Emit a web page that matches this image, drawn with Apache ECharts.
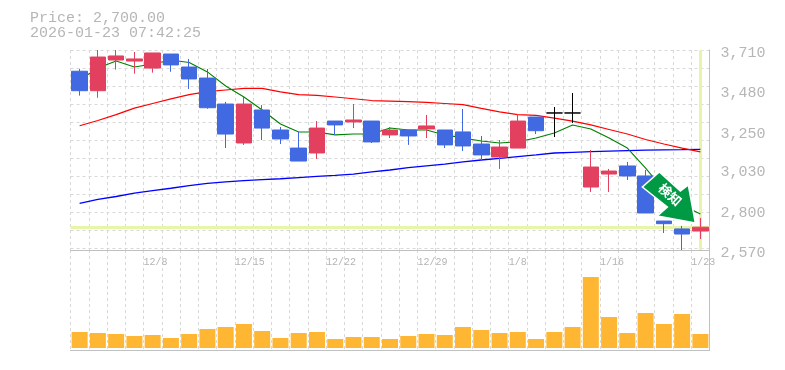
<!DOCTYPE html>
<html>
<head>
<meta charset="utf-8">
<style>html,body{margin:0;padding:0;background:#fff}#c{width:785px;height:370px}</style>
<script src="https://cdn.jsdelivr.net/npm/echarts@6/dist/echarts.min.js"></script>
</head>
<body>
<div id="c"></div>
<script>
const priceLine = 'Price: 2,700.00';
const timeLine = '2026-01-23 07:42:25';
const categories = ['12/2','12/3','12/4','12/5','12/8','12/9','12/10','12/11','12/12','12/15','12/16','12/17','12/18','12/19','12/22','12/23','12/24','12/25','12/26','12/29','12/30','1/5','1/6','1/7','1/8','1/9','1/13','1/14','1/15','1/16','1/19','1/20','1/21','1/22','1/23'];
const xTickLabels = ['12/8','12/15','12/22','12/29','1/8','1/16','1/23'];
const yTickValues = [2570,2800,3030,3250,3480,3710];
const open  = [3589,3478,3653,3647,3607,3687,3613,3550,3402,3180,3368,3254,3151,3123,3305,3300,3305,3226,3254,3260,3254,3243,3174,3100,3151,3328,3351,3351,2929,3003,3049,2992,2735,2690,2678];
const close = [3478,3670,3676,3659,3693,3625,3545,3381,3231,3402,3265,3203,3077,3265,3283,3311,3186,3254,3220,3277,3169,3163,3112,3157,3305,3250,3351,3351,3043,3020,2992,2781,2720,2661,2700];
const low   = [3450,3438,3598,3575,3581,3586,3488,3375,3151,3169,3197,3174,3077,3089,3226,3265,3180,3208,3169,3208,3151,3134,3077,3032,3151,3231,3214,3294,2901,2901,2969,2781,2667,2570,2633];
const high  = [3602,3710,3710,3699,3693,3687,3659,3602,3414,3442,3396,3271,3243,3305,3305,3402,3305,3271,3254,3340,3254,3374,3220,3197,3345,3328,3385,3465,3140,3032,3072,3026,2735,2707,2752];
const maShort = [3539,3607,3647,3613,3630,3653,3639,3585,3505,3442,3368,3288,3243,3243,3226,3231,3231,3265,3254,3254,3226,3208,3191,3180,3187,3208,3237,3283,3260,3208,3151,3037,2912,2827,2775];
const maMid = [3278,3308,3342,3379,3405,3431,3456,3473,3482,3491,3491,3471,3456,3451,3442,3432,3422,3419,3416,3411,3405,3399,3377,3357,3342,3337,3322,3305,3283,3257,3231,3200,3174,3151,3129];
const maLong = [2836,2859,2875,2894,2908,2922,2937,2950,2958,2965,2971,2976,2983,2990,2995,3003,3015,3026,3040,3050,3060,3072,3083,3092,3102,3112,3123,3127,3131,3134,3137,3139,3141,3142,3144];
const volume = [16,15,14,12,13,10,14,19,21,24,17,10,15,16,9,11,11,9,12,14,13,21,18,15,16,9,16,21,71,31,15,35,24,34,14];
const lastPrice = 2700;
const arrowText = '検知';

const GREY = '#b6b6b6', AXIS = '#c0c0c0', GRID = '#d8d8d8', RED = '#e2405e', BLUE = '#4169e1', HILITE = '#e6f5a8';
const boundaries = categories.concat(['']);
const candles = categories.map((c, i) => {
  const item = { value: [open[i], close[i], low[i], high[i]] };
  if (open[i] === close[i]) item.itemStyle = { color: '#000', color0: '#000', borderColor: '#000', borderColor0: '#000' };
  return item;
});
const dashed = { show: true, interval: 0, lineStyle: { color: GRID, width: 1, type: [3, 3] } };
const solidAxis = { show: true, onZero: false, lineStyle: { color: AXIS, width: 1 } };
const maLine = (name, data, color, width, extra) => Object.assign({
  name, type: 'line', data, xAxisIndex: 0, yAxisIndex: 0, symbol: 'none', z: 1,
  lineStyle: { color, width }, silent: true
}, extra || {});

const chart = echarts.init(document.getElementById('c'), null, { renderer: 'canvas' });
chart.setOption({
  animation: false,
  backgroundColor: '#fff',
  grid: [
    { left: 70.5, top: 50, width: 639, height: 200 },
    { left: 70.5, top: 250, width: 639, height: 100 }
  ],
  graphic: [
    { type: 'text', left: 30, top: 11, style: { text: priceLine, fill: GREY, font: '15px "Liberation Mono"' } },
    { type: 'text', left: 30, top: 26, style: { text: timeLine, fill: GREY, font: '15px "Liberation Mono"' } }
  ],
  xAxis: [
    { type: 'category', gridIndex: 0, data: categories, axisLine: { show: false }, axisTick: { show: false }, axisLabel: { show: false }, splitLine: { show: false } },
    { type: 'category', gridIndex: 0, data: boundaries, boundaryGap: false, position: 'bottom',
      axisLine: solidAxis, axisTick: { show: false }, splitLine: dashed,
      axisLabel: { show: true, align: 'left', margin: 7, color: '#b4b4b4', fontFamily: 'Liberation Mono', fontSize: 10,
        interval: (i, v) => xTickLabels.includes(v) } },
    { type: 'category', gridIndex: 1, data: categories, axisLine: { show: false }, axisTick: { show: false }, axisLabel: { show: false }, splitLine: { show: false } },
    { type: 'category', gridIndex: 1, data: boundaries, boundaryGap: false, position: 'bottom',
      axisLine: solidAxis, axisTick: { show: false }, axisLabel: { show: false }, splitLine: dashed }
  ],
  yAxis: [
    { type: 'value', gridIndex: 0, position: 'right', min: 2570, max: 3710, scale: true,
      axisLine: { show: true, lineStyle: { color: AXIS, width: 1 } }, axisTick: { show: false }, splitLine: { show: false },
      axisLabel: { show: true, customValues: yTickValues, margin: 11, color: GREY, fontFamily: 'Liberation Mono', fontSize: 15,
        verticalAlign: 'top', lineHeight: 6,
        formatter: v => v.toLocaleString('en-US') } },
    { type: 'value', gridIndex: 0, position: 'left', min: 0, max: 200, interval: 18, inverse: true,
      axisLine: { show: false }, axisTick: { show: false }, axisLabel: { show: false }, splitLine: dashed },
    { type: 'value', gridIndex: 1, position: 'right', min: -2, max: 98,
      axisLine: { show: true, lineStyle: { color: AXIS, width: 1 } }, axisTick: { show: false }, axisLabel: { show: false }, splitLine: { show: false } }
  ],
  series: [
    maLine('hilite', categories.map(() => null), HILITE, 1, {
      markLine: { silent: true, symbol: 'none', z: 1, label: { show: false },
        lineStyle: { color: HILITE, width: 3, type: 'solid' },
        data: [{ yAxis: lastPrice }, { xAxis: categories[categories.length - 1] }] }
    }),
    maLine('long', maLong, '#0000ff', 1.3),
    maLine('mid', maMid, '#ff0000', 1.2),
    maLine('short', maShort, '#008000', 1.1),
    { name: 'price', type: 'candlestick', xAxisIndex: 0, yAxisIndex: 0, z: 2, barWidth: 16, data: candles, silent: true,
      itemStyle: { color: RED, color0: BLUE, borderColor: RED, borderColor0: BLUE, borderWidth: 1 },
      markPoint: { z: 10, silent: true,
        data: [{ coord: [categories[32], 2869],
          symbol: 'path://M17 0L38 19L46 13L53 51L15 44L25 35L0 15Z', symbolSize: [53, 51], symbolOffset: [5, 0], symbolKeepAspect: false,
          itemStyle: { color: '#009944', borderColor: '#fff', borderWidth: 1.5 },
          label: { show: true, formatter: arrowText, position: 'inside', rotate: -42, offset: [-1, -3], color: '#fff',
            fontFamily: 'Noto Sans CJK JP', fontWeight: 'bold', fontSize: 13 } }] } },
    { name: 'volume', type: 'bar', xAxisIndex: 2, yAxisIndex: 2, barWidth: 16, data: volume, silent: true,
      itemStyle: { color: '#ffb733' } }
  ]
});
</script>
</body>
</html>
